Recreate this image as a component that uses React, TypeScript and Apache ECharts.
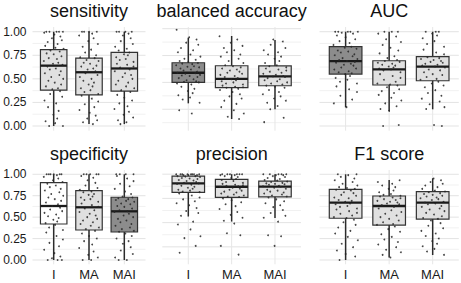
import React, { useEffect, useRef } from "react";
import * as echarts from "echarts";

// ---------- data ----------
const categories = ["I", "MA", "MAI"];
const panelTitles = ["sensitivity", "balanced accuracy", "AUC", "specificity", "precision", "F1 score"];
const yTickValues = [0, 0.25, 0.5, 0.75, 1];

// box stats per category: [lower whisker, Q1, median, Q3, upper whisker]
const sensitivityBoxes = [[0, 0.38, 0.64, 0.81, 1], [0.02, 0.33, 0.57, 0.72, 1], [0.02, 0.37, 0.61, 0.78, 1]];
const balancedAccuracyBoxes = [[0.305, 0.501, 0.59, 0.683, 0.916], [0.159, 0.451, 0.532, 0.655, 0.932], [0.25, 0.469, 0.557, 0.653, 0.895]];
const aucBoxes = [[0.198, 0.551, 0.689, 0.841, 1], [0.159, 0.435, 0.601, 0.692, 1], [0.177, 0.48, 0.629, 0.735, 1]];
const specificityBoxes = [[0, 0.42, 0.63, 0.902, 1], [0, 0.35, 0.615, 0.809, 1], [0, 0.327, 0.568, 0.732, 1]];
const precisionBoxes = [[0.563, 0.812, 0.905, 0.98, 1], [0.511, 0.761, 0.87, 0.946, 1], [0.549, 0.766, 0.872, 0.928, 1]];
const f1Boxes = [[0, 0.487, 0.669, 0.825, 1], [0.03, 0.408, 0.63, 0.747, 0.933], [0.058, 0.478, 0.669, 0.797, 0.953]];

// box shading per category
const sensitivityFills = ["light", "light", "light"];
const balancedAccuracyFills = ["dark", "light", "light"];
const aucFills = ["dark", "light", "light"];
const specificityFills = ["white", "light", "dark"];
const precisionFills = ["light", "light", "light"];
const f1Fills = ["light", "light", "light"];

// individual (jittered) observations
const sensitivityI = [1, 1, 1, 1, 1, 0.99, 0.97, 0.95, 0.93, 0.91, 0.89, 0.87, 0.85, 0.83, 0.82, 0.8, 0.79, 0.77, 0.76, 0.74, 0.72, 0.71, 0.69, 0.67, 0.66, 0.65, 0.63, 0.61, 0.6, 0.58, 0.56, 0.54, 0.52, 0.5, 0.48, 0.46, 0.44, 0.42, 0.4, 0.39, 0.37, 0.34, 0.31, 0.27, 0.24, 0.2, 0.16, 0.12, 0.08, 0.05, 0.03, 0, 0];
const sensitivityMA = [1, 1, 1, 1, 0.98, 0.96, 0.93, 0.9, 0.87, 0.84, 0.81, 0.78, 0.75, 0.73, 0.72, 0.7, 0.69, 0.67, 0.66, 0.64, 0.63, 0.61, 0.6, 0.58, 0.56, 0.54, 0.52, 0.5, 0.48, 0.46, 0.44, 0.42, 0.4, 0.38, 0.36, 0.34, 0.32, 0.29, 0.26, 0.23, 0.2, 0.17, 0.14, 0.11, 0.08, 0.06, 0.04, 0.02];
const sensitivityMAI = [1, 1, 1, 1, 0.98, 0.96, 0.93, 0.9, 0.87, 0.84, 0.82, 0.8, 0.78, 0.76, 0.75, 0.73, 0.71, 0.7, 0.68, 0.66, 0.65, 0.63, 0.62, 0.6, 0.58, 0.56, 0.54, 0.52, 0.5, 0.48, 0.46, 0.44, 0.42, 0.4, 0.38, 0.36, 0.33, 0.3, 0.27, 0.24, 0.21, 0.18, 0.15, 0.12, 0.09, 0.06, 0.04, 0.02];

const balancedAccuracyI = [0.99, 0.92, 0.9, 0.87, 0.85, 0.82, 0.8, 0.78, 0.76, 0.74, 0.72, 0.71, 0.7, 0.69, 0.68, 0.675, 0.67, 0.66, 0.65, 0.645, 0.64, 0.63, 0.62, 0.61, 0.6, 0.59, 0.585, 0.58, 0.57, 0.565, 0.56, 0.55, 0.54, 0.53, 0.52, 0.51, 0.505, 0.5, 0.49, 0.48, 0.46, 0.44, 0.42, 0.4, 0.38, 0.36, 0.34, 0.31, 0.24, 0.21];
const balancedAccuracyMA = [0.93, 0.9, 0.87, 0.84, 0.82, 0.8, 0.78, 0.76, 0.74, 0.72, 0.7, 0.68, 0.66, 0.65, 0.64, 0.63, 0.62, 0.61, 0.6, 0.59, 0.58, 0.57, 0.56, 0.55, 0.54, 0.53, 0.52, 0.51, 0.5, 0.49, 0.48, 0.47, 0.46, 0.455, 0.45, 0.44, 0.43, 0.41, 0.39, 0.37, 0.35, 0.33, 0.3, 0.27, 0.24, 0.21, 0.18, 0.16];
const balancedAccuracyMAI = [0.9, 0.88, 0.85, 0.82, 0.8, 0.78, 0.76, 0.74, 0.72, 0.7, 0.68, 0.66, 0.65, 0.64, 0.63, 0.62, 0.61, 0.6, 0.59, 0.58, 0.57, 0.56, 0.555, 0.55, 0.54, 0.53, 0.52, 0.51, 0.5, 0.49, 0.48, 0.47, 0.46, 0.45, 0.43, 0.41, 0.39, 0.37, 0.35, 0.33, 0.31, 0.28, 0.25, 0.17, 0.13];

const aucI = [1, 1, 1, 1, 1, 0.99, 0.98, 0.96, 0.94, 0.92, 0.9, 0.88, 0.86, 0.84, 0.83, 0.82, 0.8, 0.79, 0.78, 0.76, 0.75, 0.74, 0.72, 0.71, 0.7, 0.69, 0.68, 0.67, 0.66, 0.65, 0.64, 0.62, 0.61, 0.6, 0.58, 0.57, 0.56, 0.55, 0.53, 0.51, 0.49, 0.47, 0.45, 0.42, 0.39, 0.36, 0.32, 0.28, 0.24, 0.2];
const aucMA = [1, 1, 1, 0.98, 0.95, 0.92, 0.89, 0.86, 0.83, 0.8, 0.77, 0.74, 0.72, 0.7, 0.69, 0.68, 0.67, 0.66, 0.65, 0.64, 0.63, 0.62, 0.61, 0.6, 0.59, 0.57, 0.55, 0.53, 0.51, 0.49, 0.47, 0.45, 0.44, 0.43, 0.41, 0.39, 0.37, 0.35, 0.33, 0.3, 0.27, 0.24, 0.21, 0.18, 0.16, 0.01, 0];
const aucMAI = [1, 1, 1, 0.98, 0.96, 0.93, 0.9, 0.87, 0.84, 0.81, 0.78, 0.76, 0.73, 0.72, 0.71, 0.7, 0.69, 0.68, 0.67, 0.66, 0.65, 0.64, 0.63, 0.62, 0.6, 0.59, 0.57, 0.55, 0.54, 0.52, 0.5, 0.49, 0.47, 0.45, 0.43, 0.41, 0.38, 0.35, 0.32, 0.29, 0.26, 0.23, 0.2, 0.18, 0.01, 0];

const specificityI = [1, 1, 1, 1, 1, 1, 0.99, 0.97, 0.95, 0.93, 0.91, 0.89, 0.87, 0.85, 0.83, 0.81, 0.79, 0.77, 0.75, 0.73, 0.71, 0.69, 0.67, 0.65, 0.63, 0.61, 0.59, 0.57, 0.55, 0.53, 0.51, 0.49, 0.47, 0.45, 0.43, 0.41, 0.38, 0.35, 0.32, 0.28, 0.24, 0.2, 0.16, 0.12, 0.08, 0.04, 0.02, 0, 0, 0];
const specificityMA = [1, 1, 1, 1, 1, 0.98, 0.96, 0.93, 0.9, 0.87, 0.84, 0.82, 0.8, 0.79, 0.77, 0.76, 0.74, 0.73, 0.71, 0.7, 0.68, 0.66, 0.64, 0.62, 0.6, 0.58, 0.56, 0.54, 0.52, 0.5, 0.48, 0.46, 0.44, 0.42, 0.4, 0.38, 0.36, 0.34, 0.31, 0.28, 0.25, 0.22, 0.18, 0.14, 0.1, 0.06, 0.03, 0, 0];
const specificityMAI = [1, 1, 1, 1, 0.98, 0.95, 0.92, 0.89, 0.86, 0.83, 0.8, 0.77, 0.74, 0.73, 0.72, 0.71, 0.7, 0.69, 0.68, 0.66, 0.65, 0.63, 0.62, 0.6, 0.58, 0.57, 0.56, 0.54, 0.52, 0.5, 0.48, 0.46, 0.44, 0.42, 0.4, 0.38, 0.36, 0.34, 0.33, 0.31, 0.28, 0.25, 0.22, 0.19, 0.15, 0.11, 0.07, 0.03, 0, 0];

const precisionI = [1, 1, 1, 1, 1, 1, 1, 1, 0.99, 0.99, 0.98, 0.98, 0.975, 0.97, 0.96, 0.955, 0.95, 0.94, 0.935, 0.93, 0.92, 0.91, 0.905, 0.9, 0.89, 0.88, 0.87, 0.86, 0.85, 0.84, 0.83, 0.82, 0.815, 0.8, 0.78, 0.76, 0.74, 0.72, 0.7, 0.68, 0.65, 0.62, 0.6, 0.57, 0.51, 0.48, 0.43, 0.36, 0.34, 0.26, 0.19];
const precisionMA = [1, 1, 1, 1, 1, 1, 0.99, 0.99, 0.98, 0.97, 0.96, 0.95, 0.94, 0.93, 0.92, 0.91, 0.9, 0.89, 0.885, 0.88, 0.875, 0.87, 0.86, 0.85, 0.84, 0.83, 0.82, 0.81, 0.8, 0.79, 0.78, 0.77, 0.765, 0.75, 0.73, 0.71, 0.69, 0.67, 0.64, 0.61, 0.58, 0.55, 0.52, 0.49, 0.39, 0.37, 0.26, 0.17];
const precisionMAI = [1, 1, 1, 1, 1, 0.99, 0.99, 0.98, 0.97, 0.96, 0.95, 0.94, 0.935, 0.925, 0.92, 0.91, 0.905, 0.9, 0.895, 0.89, 0.88, 0.875, 0.87, 0.86, 0.85, 0.84, 0.83, 0.82, 0.81, 0.8, 0.79, 0.78, 0.77, 0.76, 0.74, 0.72, 0.7, 0.68, 0.66, 0.63, 0.6, 0.57, 0.55, 0.51, 0.37, 0.36, 0.26];

const f1I = [1, 1, 0.99, 0.97, 0.95, 0.93, 0.91, 0.89, 0.87, 0.85, 0.84, 0.83, 0.82, 0.81, 0.79, 0.78, 0.76, 0.75, 0.73, 0.72, 0.7, 0.69, 0.68, 0.66, 0.65, 0.63, 0.62, 0.6, 0.59, 0.57, 0.55, 0.54, 0.52, 0.5, 0.49, 0.47, 0.44, 0.41, 0.38, 0.34, 0.31, 0.27, 0.23, 0.19, 0.15, 0.11, 0.07, 0.04, 0];
const f1MA = [0.93, 0.91, 0.89, 0.87, 0.85, 0.83, 0.81, 0.79, 0.77, 0.76, 0.75, 0.74, 0.73, 0.72, 0.71, 0.7, 0.69, 0.68, 0.67, 0.66, 0.65, 0.64, 0.62, 0.6, 0.58, 0.56, 0.54, 0.52, 0.5, 0.48, 0.46, 0.44, 0.42, 0.41, 0.39, 0.36, 0.33, 0.3, 0.27, 0.24, 0.21, 0.18, 0.15, 0.12, 0.09, 0.06, 0.03];
const f1MAI = [0.95, 0.93, 0.91, 0.89, 0.87, 0.85, 0.83, 0.81, 0.8, 0.79, 0.78, 0.77, 0.76, 0.75, 0.74, 0.73, 0.72, 0.71, 0.7, 0.68, 0.67, 0.66, 0.65, 0.63, 0.62, 0.6, 0.59, 0.57, 0.55, 0.53, 0.51, 0.49, 0.48, 0.46, 0.43, 0.4, 0.37, 0.34, 0.31, 0.28, 0.25, 0.22, 0.19, 0.16, 0.13, 0.1, 0.06];

// hand-set horizontal jitter offsets (in category units)
const jitterOffsets = [-0.21, 0.08, 0.26, -0.12, 0.15, -0.27, 0.02, 0.19, -0.05, 0.23, -0.17, 0.11, -0.24, 0.05, 0.28, -0.09, 0.17, -0.2, 0.0, 0.22, -0.14, 0.09, -0.28, 0.13, -0.02, 0.25, -0.18, 0.06, -0.11, 0.2, -0.25, 0.16, -0.07, 0.27, -0.15, 0.03, 0.21, -0.22, 0.12, -0.04, 0.18, -0.1, 0.24, -0.26, 0.07, -0.16, 0.14, -0.01, 0.1, -0.23, 0.04, -0.13, 0.26];

// ---------- layout / style ----------
const FONT = "'Liberation Sans', Arial, Helvetica, sans-serif";
const FILL_COLORS: Record<string, string> = { white: "#ffffff", light: "#e0e0e0", dark: "#8c8c8c" };
const FILL_KEYS = ["white", "light", "dark"];
const COL_LEFT = [32.5, 162.3, 319.5];
const COL_WIDTH = [113, 138.7, 139.3];
const ROW_TOP = [27, 170];
const ROW_HEIGHT = [103.7, 94.3];
const TITLE_Y = [10.8, 153.8];
const PANEL_Y_RANGE = [
  [-0.05, 1.05],
  [0.0503, 1.0158],
  [-0.05, 1.05],
  [-0.05, 1.05],
  [0.07, 1.043],
  [-0.05, 1.05],
];

const panels = [
  { boxes: sensitivityBoxes, fills: sensitivityFills, points: [sensitivityI, sensitivityMA, sensitivityMAI] },
  { boxes: balancedAccuracyBoxes, fills: balancedAccuracyFills, points: [balancedAccuracyI, balancedAccuracyMA, balancedAccuracyMAI] },
  { boxes: aucBoxes, fills: aucFills, points: [aucI, aucMA, aucMAI] },
  { boxes: specificityBoxes, fills: specificityFills, points: [specificityI, specificityMA, specificityMAI] },
  { boxes: precisionBoxes, fills: precisionFills, points: [precisionI, precisionMA, precisionMAI] },
  { boxes: f1Boxes, fills: f1Fills, points: [f1I, f1MA, f1MAI] },
];

function gridRender(params: any, api: any) {
  const cs = params.coordSys;
  const v = api.value(0);
  const kind = api.value(1);
  if (kind === 2) {
    const x = api.coord([v, 0.5])[0];
    return { type: "line", shape: { x1: x, y1: cs.y, x2: x, y2: cs.y + cs.height }, style: { stroke: "#e6e6e6", lineWidth: 1 } };
  }
  const y = api.coord([1, v])[1];
  return {
    type: "line",
    shape: { x1: cs.x, y1: y, x2: cs.x + cs.width, y2: y },
    style: { stroke: kind === 1 ? "#e3e3e3" : "#eeeeee", lineWidth: kind === 1 ? 1 : 0.8 },
  };
}

function boxRender(_params: any, api: any) {
  const x = api.value(0);
  const lo = api.coord([x, api.value(1)]);
  const q1 = api.coord([x, api.value(2)]);
  const md = api.coord([x, api.value(3)]);
  const q3 = api.coord([x, api.value(4)]);
  const hi = api.coord([x, api.value(5)]);
  const hw = api.size([0.75, 0])[0] / 2;
  const fill = FILL_COLORS[FILL_KEYS[api.value(6)]];
  return {
    type: "group",
    children: [
      { type: "line", shape: { x1: lo[0], y1: lo[1], x2: hi[0], y2: hi[1] }, style: { stroke: "#2b2b2b", lineWidth: 1.5 } },
      { type: "rect", shape: { x: q3[0] - hw, y: q3[1], width: hw * 2, height: q1[1] - q3[1] }, style: { fill, stroke: "#333333", lineWidth: 1.2 } },
      { type: "line", shape: { x1: md[0] - hw, y1: md[1], x2: md[0] + hw, y2: md[1] }, style: { stroke: "#1a1a1a", lineWidth: 2.3 } },
    ],
  };
}

function buildOption() {
  const option: any = {
    animation: false,
    textStyle: { fontFamily: FONT },
    grid: [],
    xAxis: [],
    yAxis: [],
    series: [],
    graphic: [],
  };
  panels.forEach((p, i) => {
    const row = Math.floor(i / 3);
    const col = i % 3;
    const [ymin, ymax] = PANEL_Y_RANGE[i];
    option.grid.push({
      left: COL_LEFT[col], top: ROW_TOP[row], width: COL_WIDTH[col], height: ROW_HEIGHT[row],
      containLabel: false, outerBoundsMode: "none",
    });
    option.xAxis.push({
      type: "value", gridIndex: i, min: 0.4, max: 3.6,
      axisLine: { show: false }, axisTick: { show: false }, splitLine: { show: false },
      axisLabel: row === 1
        ? { show: true, customValues: [1, 2, 3], formatter: (v: number) => categories[Math.round(v) - 1] ?? "", fontSize: 13, color: "#1a1a1a", margin: 4, fontFamily: FONT }
        : { show: false },
    });
    option.yAxis.push({
      type: "value", gridIndex: i, min: ymin, max: ymax,
      axisLine: { show: false }, axisTick: { show: false }, splitLine: { show: false },
      axisLabel: col === 0
        ? { show: true, customValues: yTickValues, formatter: (v: number) => v.toFixed(2), fontSize: 12, color: "#1a1a1a", margin: 6, fontFamily: FONT }
        : { show: false },
    });
    const gl: number[][] = [];
    for (let k = Math.ceil(ymin / 0.125); k * 0.125 <= ymax; k++) gl.push([k * 0.125, k % 2 === 0 ? 1 : 0]);
    [1, 2, 3].forEach((c) => gl.push([c, 2]));
    option.series.push({
      type: "custom", xAxisIndex: i, yAxisIndex: i, silent: true, z: 1, data: gl, renderItem: gridRender,
    });
    option.series.push({
      type: "custom", xAxisIndex: i, yAxisIndex: i, silent: true, z: 2,
      data: p.boxes.map((b, g) => [g + 1, ...b, FILL_KEYS.indexOf(p.fills[g])]),
      renderItem: boxRender,
    });
    const pts: number[][] = [];
    p.points.forEach((vals, g) => {
      vals.forEach((v, k) => {
        const j = jitterOffsets[(k + g * 17 + i * 5) % jitterOffsets.length];
        pts.push([g + 1 + j, v]);
      });
    });
    option.series.push({
      type: "scatter", xAxisIndex: i, yAxisIndex: i, silent: true, z: 3,
      symbolSize: 1.8, itemStyle: { color: "#262626", opacity: 0.85 }, data: pts,
    });
    option.graphic.push({
      type: "text", x: COL_LEFT[col] + COL_WIDTH[col] / 2, y: TITLE_Y[row], silent: true,
      style: { text: panelTitles[i], fontSize: 18, fill: "#111111", align: "center", verticalAlign: "middle", fontFamily: FONT },
    });
  });
  return option;
}

export default function App() {
  const ref = useRef<HTMLDivElement>(null);
  useEffect(() => {
    if (!ref.current) return;
    const chart = echarts.init(ref.current, undefined, { renderer: "svg" });
    chart.setOption(buildOption());
    return () => chart.dispose();
  }, []);
  return <div ref={ref} style={{ position: "absolute", left: 0, top: 0, width: 461, height: 283, background: "#ffffff" }} />;
}
